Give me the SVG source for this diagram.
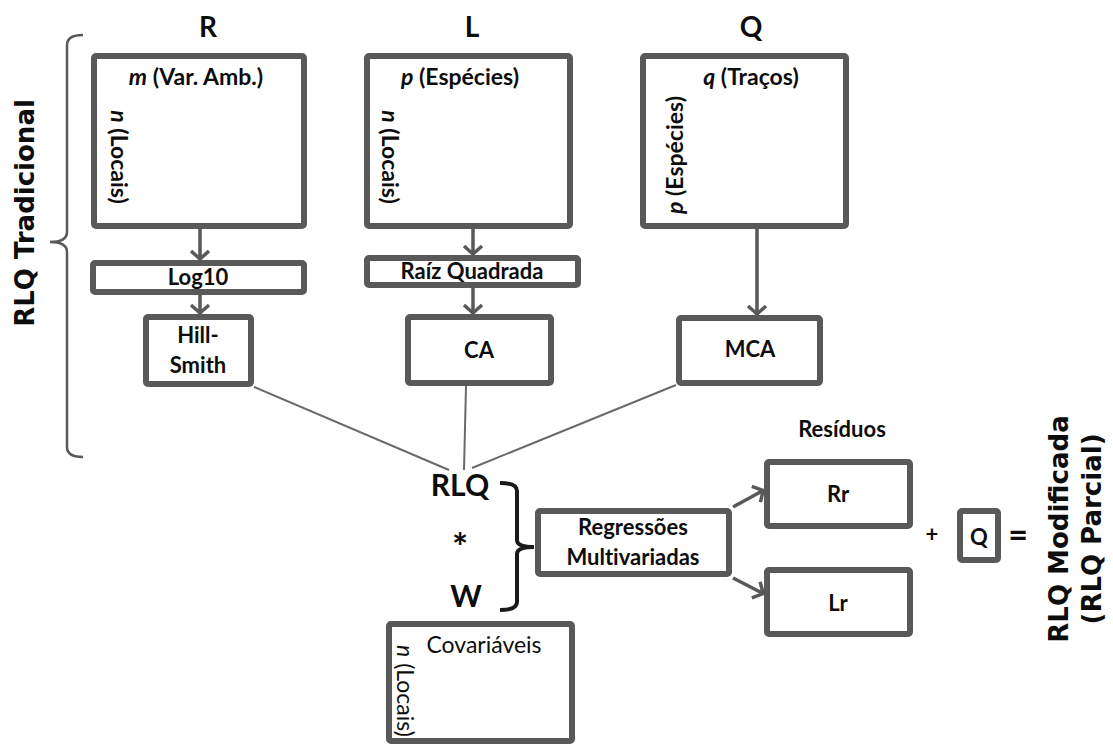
<svg xmlns="http://www.w3.org/2000/svg" width="1113" height="745" viewBox="0 0 1113 745">
<style>
.box{fill:#fff;stroke:#595959;stroke-width:6}
.t{font-family:Lato,"Open Sans",sans-serif;font-weight:bold;fill:#0d0d0d;text-anchor:middle;font-size:22px;font-variant-ligatures:none}
.r{font-family:Lato,"Open Sans",sans-serif;font-weight:normal;fill:#0d0d0d;text-anchor:middle;font-size:23px;font-variant-ligatures:none}
.big{font-family:"DejaVu Sans",sans-serif;font-weight:bold;fill:#0d0d0d;text-anchor:middle;font-size:26px}
.ttl{font-size:28px}
.huge{font-size:30px}
.lab{font-size:23px}
.arr{stroke:#595959;stroke-width:3.5;fill:none;marker-end:url(#chev)}
.ln{stroke:#6a6a6a;stroke-width:2;fill:none}
</style>
<defs>
<marker id="chev" markerUnits="userSpaceOnUse" markerWidth="24" markerHeight="24" viewBox="-12 -12 24 24" refX="0" refY="0" orient="auto">
<path d="M-9,-9 L-1,0 L-9,9" fill="none" stroke="#595959" stroke-width="3.5"/>
</marker>
</defs>

<g id="side-left">
<path d="M83,35 Q67,35 67,45 L67,232 Q67,242 50,242 Q67,242 67,252 L67,447 Q67,457 83,457" fill="none" stroke="#595959" stroke-width="2.5"/>
<text class="big" transform="translate(34,213) rotate(-90)">RLQ Tradicional</text>
</g>

<g id="titles">
<text class="t ttl" x="208" y="37">R</text>
<text class="t ttl" x="472" y="37">L</text>
<text class="t ttl" x="751" y="37">Q</text>
</g>

<g id="R">
<rect class="box" x="94" y="56" width="210" height="170" rx="2"/>
<text class="t lab" x="196" y="85"><tspan font-style="italic">m</tspan> (Var. Amb.)</text>
<text class="t lab" transform="translate(111,157) rotate(90)"><tspan font-style="italic">n</tspan> (Locais)</text>
</g>
<g id="L">
<rect class="box" x="367" y="56" width="203" height="170" rx="2"/>
<text class="t lab" x="460" y="85"><tspan font-style="italic">p</tspan> (Espécies)</text>
<text class="t lab" transform="translate(382,157) rotate(90)"><tspan font-style="italic">n</tspan> (Locais)</text>
</g>
<g id="Q">
<rect class="box" x="643" y="56" width="203" height="170" rx="2"/>
<text class="t lab" x="751" y="85"><tspan font-style="italic">q</tspan> (Traços)</text>
<text class="t lab" transform="translate(683,155) rotate(-90)"><tspan font-style="italic">p</tspan> (Espécies)</text>
</g>

<g id="Log10">
<rect class="box" x="93" y="263" width="211" height="29" rx="2"/>
<text class="t" x="198" y="285">Log10</text>
</g>
<g id="Raiz">
<rect class="box" x="367" y="258" width="211" height="27" rx="2"/>
<text class="t" x="472" y="279">Raíz Quadrada</text>
</g>
<g id="HillSmith">
<rect class="box" x="146" y="317" width="105" height="67" rx="2"/>
<text class="t" x="198" y="343">Hill-</text>
<text class="t" x="198" y="373">Smith</text>
</g>
<g id="CA">
<rect class="box" x="408" y="317" width="143" height="66" rx="2"/>
<text class="t" x="479" y="358">CA</text>
</g>
<g id="MCA">
<rect class="box" x="679" y="318" width="141" height="65" rx="2"/>
<text class="t" x="750" y="357">MCA</text>
</g>

<g id="RLQW">
<text class="t huge" x="460" y="496">RLQ</text>
<text class="t" x="460" y="561" style="font-size:38px">*</text>
<text class="t huge" x="466" y="607">W</text>
<path d="M500,483 Q517,483 517,491 L517,540 Q517,547 534,547 Q517,547 517,554 L517,602 Q517,610 500,610" fill="none" stroke="#1a1a1a" stroke-width="4"/>
</g>

<g id="Regressoes">
<rect class="box" x="538" y="511" width="191" height="63" rx="2"/>
<text class="t" x="633" y="535">Regressões</text>
<text class="t" x="633" y="565">Multivariadas</text>
</g>

<g id="Residuos">
<text class="t" x="842" y="437">Resíduos</text>
</g>
<g id="Rr">
<rect class="box" x="767" y="462" width="143" height="64" rx="2"/>
<text class="t" x="838" y="502">Rr</text>
</g>
<g id="Lr">
<rect class="box" x="767" y="570" width="143" height="64" rx="2"/>
<text class="t" x="838" y="611">Lr</text>
</g>
<g id="plusQ">
<text class="t" x="932" y="542">+</text>
<rect class="box" x="960" y="511" width="38" height="49" rx="2"/>
<text class="t" x="979" y="545">Q</text>
<text class="t" x="1018" y="547" style="font-size:34px">=</text>
</g>
<g id="RLQModificada">
<text class="big" transform="translate(1068,529) rotate(-90)">RLQ Modificada</text>
<text class="big" transform="translate(1101,529) rotate(-90)">(RLQ Parcial)</text>
</g>

<g id="Covariaveis">
<rect class="box" x="389" y="624" width="183" height="117" rx="2"/>
<text class="r" x="484" y="653">Covariáveis</text>
<text class="r" transform="translate(397,691) rotate(90)"><tspan font-style="italic">n</tspan> (Locais)</text>
</g>

<g id="connectors">
<line class="arr" x1="200" y1="229" x2="200" y2="260"/>
<line class="arr" x1="200" y1="295" x2="200" y2="314"/>
<line class="arr" x1="473" y1="229" x2="473" y2="255"/>
<line class="arr" x1="473" y1="288" x2="473" y2="314"/>
<line class="arr" x1="757" y1="229" x2="757" y2="315"/>
<line class="arr" x1="733" y1="507" x2="764" y2="490"/>
<line class="arr" x1="733" y1="578" x2="764" y2="594"/>
<line class="ln" x1="254" y1="387" x2="449" y2="470"/>
<line class="ln" x1="466" y1="386" x2="464" y2="470"/>
<line class="ln" x1="676" y1="385" x2="472" y2="468"/>
</g>
</svg>
